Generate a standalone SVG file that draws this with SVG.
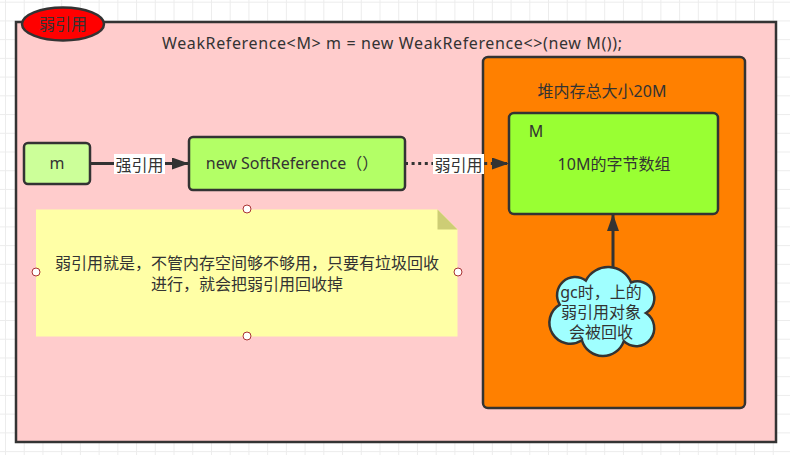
<svg xmlns="http://www.w3.org/2000/svg" width="790" height="455" viewBox="0 0 790 455">
<defs>
<pattern id="grid" x="5" y="1.7" width="18.725" height="18.725" patternUnits="userSpaceOnUse">
<path d="M0 0.5 H18.725 M0.5 0 V18.725" fill="none" stroke="#ececec" stroke-width="1"/>
</pattern>
<marker id="arr" viewBox="0 0 17 12" refX="17" refY="6" markerWidth="17" markerHeight="12" markerUnits="userSpaceOnUse" orient="auto">
<path d="M0 0 L17 6 L0 12 Z" fill="#333"/>
</marker>
<style>
text{font-family:"Noto Sans","Noto Sans CJK SC",sans-serif;fill:#333;font-size:16px;text-anchor:middle}
.box{stroke:#333;stroke-width:2.5}
.handle{fill:#fff;stroke:#a33;stroke-width:1}
.edge{fill:none;stroke:#333;stroke-width:3}
.lbl{fill:#fff}
</style>
</defs>
<rect width="790" height="455" fill="#fff"/>
<rect width="790" height="455" fill="url(#grid)"/>

<g id="container">
<rect class="box" x="16" y="22" width="760" height="420" fill="#FFCCCC"/>
<text x="392" y="49" textLength="460" lengthAdjust="spacing">WeakReference&lt;M&gt; m = new WeakReference&lt;&gt;(new M());</text>
</g>

<g id="title-ellipse">
<ellipse class="box" cx="63" cy="24" rx="41" ry="16.5" fill="#FF0000"/>
<text x="63" y="30">弱引用</text>
</g>

<g id="heap">
<rect class="box" x="483" y="57" width="262" height="351" rx="5" fill="#FF8000"/>
<text x="602" y="97">堆内存总大小20M</text>
</g>

<g id="node-m">
<rect class="box" x="24" y="143" width="66" height="41" rx="4" fill="#CCFF99"/>
<text x="57" y="169">m</text>
</g>

<g id="node-soft">
<rect class="box" x="189" y="137" width="216" height="53" rx="4" fill="#B3FF66"/>
<text x="292" y="169">new SoftReference（）</text>
</g>

<g id="node-M">
<rect class="box" x="509" y="113" width="209" height="101" rx="5" fill="#99FF33"/>
<text x="536" y="137">M</text>
<text x="614" y="170">10M的字节数组</text>
</g>

<g id="note">
<path d="M36 209.5 H437.5 L457.5 229.5 V336.5 H36 Z" fill="#FFFFA6"/>
<path d="M437.5 209.5 L457.5 229.5 H437.5 Z" fill="#CDCD75"/>
<text x="247" y="269">弱引用就是，不管内存空间够不够用，只要有垃圾回收</text>
<text x="247" y="290">进行，就会把弱引用回收掉</text>
<circle class="handle" cx="247" cy="209" r="4"/>
<circle class="handle" cx="36" cy="272" r="4"/>
<circle class="handle" cx="458" cy="272" r="4"/>
<circle class="handle" cx="247" cy="336" r="4"/>
</g>

<g id="cloud">
<path class="box" fill="#A0FFFF" d="M559.8 304.6 A18 18 0 0 1 585.8 280.6 A25 25 0 0 1 631.1 282.5 A17 17 0 0 1 645.9 313 A18 18 0 1 1 623.8 341.2 A22 22 0 0 1 581.9 340.3 A21 21 0 1 1 559.8 304.6 Z"/>
<text x="601" y="298">gc时，上的</text>
<text x="601" y="318">弱引用对象</text>
<text x="601" y="338">会被回收</text>
</g>

<g id="connectors">
<path class="edge" d="M90 163.5 H189" marker-end="url(#arr)"/>
<rect class="lbl" x="114" y="154" width="51" height="20"/>
<text x="139.5" y="171">强引用</text>
<path class="edge" d="M405 163.5 H509" stroke-dasharray="3 3.6" marker-end="url(#arr)"/>
<rect class="lbl" x="433" y="154" width="51" height="20"/>
<text x="458.5" y="171">弱引用</text>
<path class="edge" d="M613 268 V214" marker-end="url(#arr)"/>
</g>
</svg>
